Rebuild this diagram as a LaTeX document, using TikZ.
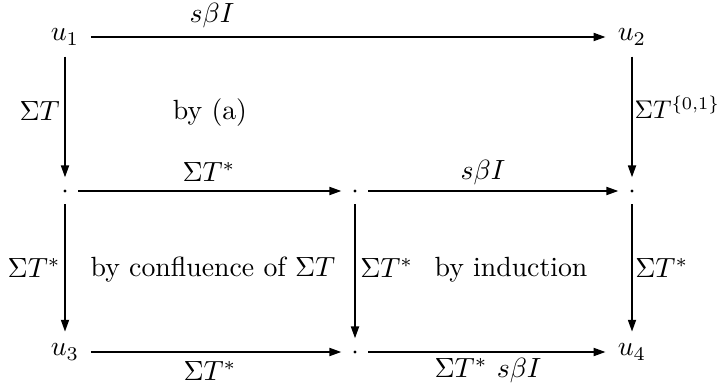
\documentclass[tikz,border=0pt]{standalone}
\usetikzlibrary{arrows.meta}
\begin{document}
\begin{tikzpicture}[x=0.36pt,y=-0.36pt,
  obj/.style={inner sep=4pt},
  pt/.style={circle,inner sep=0pt,minimum size=9pt,
    path picture={\fill (path picture bounding box.center) circle (0.6pt);}},
  arr/.style={line width=1.05pt,-{Triangle[length=4.5pt,width=2.7pt]}},
  lbl/.style={inner sep=1pt}]
\useasboundingbox (0,0) rectangle (720,386);
\node[obj] (u1) at (65,37) {$u_1$};
\node[obj] (u2) at (632,37) {$u_2$};
\node[pt] (d1) at (65,191) {};
\node[pt] (d2) at (355,191) {};
\node[pt] (d3) at (632,191) {};
\node[obj] (u3) at (65,352) {$u_3$};
\node[pt] (d4) at (355,352) {};
\node[obj] (u4) at (632,352) {$u_4$};
\draw[arr] (u1) -- (u2);
\draw[arr] (u1) -- (d1);
\draw[arr] (u2) -- (d3);
\draw[arr] (d1) -- (d2);
\draw[arr] (d2) -- (d3);
\draw[arr] (d1) -- (u3);
\draw[arr] (d2) -- (d4);
\draw[arr] (d3) -- (u4);
\draw[arr] (u3) -- (d4);
\draw[arr] (d4) -- (u4);
\node[lbl] (l1) at (212,16) {$s\beta I$};
\node[lbl,anchor=east] (l2) at (63,111) {$\Sigma T$};
\node (t1) at (210,113) {by (a)};
\node[inner sep=0pt,anchor=west] (l3) at (634,107) {\scalebox{0.92}{$\Sigma T^{\{0,1\}}$}};
\node[lbl] (l4) at (209,172) {$\Sigma T^*$};
\node[lbl] (l5) at (483,173) {$s\beta I$};
\node[lbl,anchor=east] (l6) at (64,268) {$\Sigma T^*$};
\node (t2) at (213,270) {by confluence of $\Sigma T$};
\node[lbl,anchor=west] (l7) at (357,268) {$\Sigma T^*$};
\node (t3) at (511,270) {by induction};
\node[lbl,anchor=west] (l8) at (632,268) {$\Sigma T^*$};
\node[lbl] (l9) at (210,371) {$\Sigma T^*$};
\node[lbl] (l10) at (488,371) {$\Sigma T^*\ s\beta I$};
\end{tikzpicture}
\end{document}
